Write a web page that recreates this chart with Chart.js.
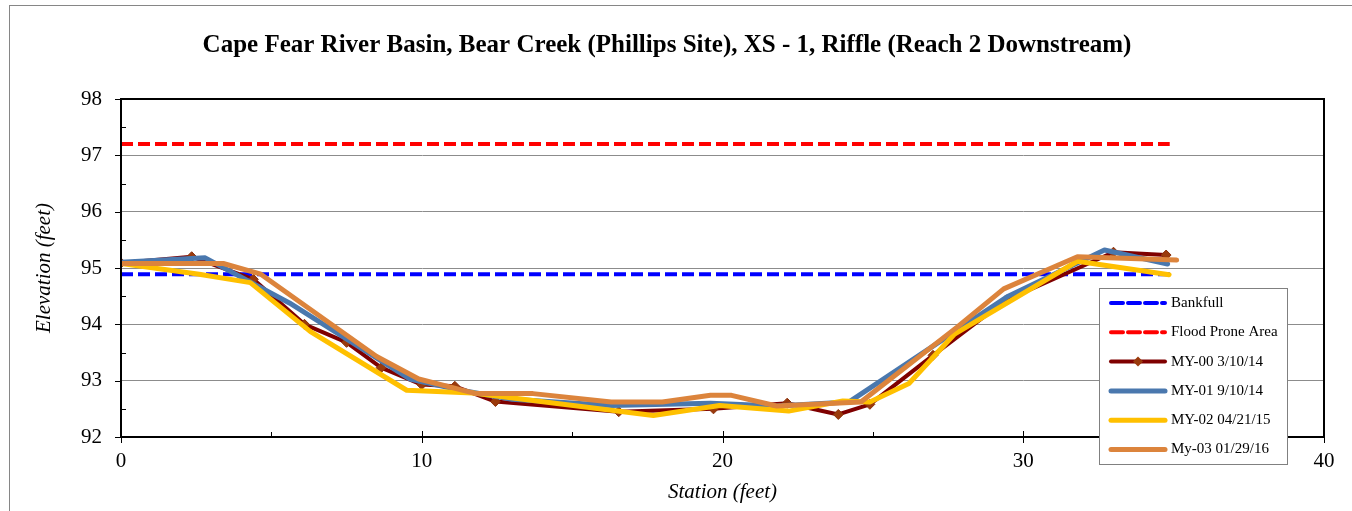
<!DOCTYPE html>
<html>
<head>
<meta charset="utf-8">
<script src="https://cdn.jsdelivr.net/npm/chart.js@4.4.1/dist/chart.umd.min.js"></script>
<style>
  body { margin: 0; background: #fff; }
  canvas { display: block; }
</style>
</head>
<body>
<canvas id="xsChart" width="1352" height="511"></canvas>
<script>
// cross-section survey data (station ft, elevation ft)
const bankfullStation = [0, 34.87];
const bankfullElev = [94.89, 94.89];
const floodStation = [0, 34.87];
const floodElev = [97.2, 97.2];

const my00Station = [0, 2.35, 4.4, 6.1, 7.5, 8.65, 10.0, 11.1, 12.45, 16.55, 19.7, 22.15, 23.85, 24.9, 27.0, 29.4, 33.0, 34.75];
const my00Elev = [95.09, 95.2, 94.8, 94.0, 93.68, 93.23, 92.93, 92.9, 92.63, 92.45, 92.5, 92.6, 92.4, 92.58, 93.45, 94.42, 95.28, 95.23];

const my01Station = [0, 2.8, 5.6, 9.6, 11.2, 13.0, 16.3, 19.6, 21.8, 24.2, 29.5, 32.7, 34.8];
const my01Elev = [95.1, 95.18, 94.38, 93.03, 92.84, 92.67, 92.56, 92.6, 92.55, 92.62, 94.5, 95.32, 95.07];

const my02Station = [0, 2.6, 4.3, 6.3, 9.5, 11.7, 17.7, 19.9, 22.2, 24.0, 24.9, 26.2, 27.7, 31.8, 34.85];
const my02Elev = [95.08, 94.89, 94.74, 93.87, 92.83, 92.78, 92.38, 92.56, 92.46, 92.64, 92.62, 92.95, 93.82, 95.12, 94.88];

const my03Station = [0, 3.4, 4.65, 8.5, 9.9, 11.8, 13.7, 16.3, 18.0, 19.6, 20.3, 21.8, 24.6, 27.8, 29.35, 31.8, 35.1];
const my03Elev = [95.08, 95.08, 94.89, 93.43, 93.03, 92.77, 92.77, 92.62, 92.62, 92.74, 92.74, 92.55, 92.62, 93.95, 94.63, 95.2, 95.14];

const xTicks = [0, 10, 20, 30, 40];
const yTicks = [92, 93, 94, 95, 96, 97, 98];

function pts(xs, ys) {
  return xs.map((x, i) => ({ x: x, y: ys[i] }));
}

const serif = "'Liberation Serif', 'Times New Roman', serif";

const seriesStyle = [
  { label: "Bankfull", color: "#0000FF", dash: [12, 5], width: 4 },
  { label: "Flood Prone Area", color: "#FF0000", dash: [12, 5], width: 4 },
  { label: "MY-00 3/10/14", color: "#7F0000", width: 4, marker: true },
  { label: "MY-01 9/10/14", color: "#4A78AE", width: 5 },
  { label: "MY-02 04/21/15", color: "#FFC000", width: 5 },
  { label: "My-03 01/29/16", color: "#DC843C", width: 5 },
];

// minor/major tick marks, plot frame, outer border
const frameTicks = {
  id: "frameTicks",
  afterDraw(chart) {
    const c = chart.ctx;
    const a = chart.chartArea;
    const xs = chart.scales.x;
    const ys = chart.scales.y;
    c.save();
    c.strokeStyle = "#000";
    c.lineWidth = 1;
    c.beginPath();
    for (let v = 92; v <= 98; v += 0.5) {
      const y = Math.round(ys.getPixelForValue(v)) + 0.5;
      if (v % 1 === 0) { c.moveTo(a.left - 6, y); c.lineTo(a.left, y); }
      else { c.moveTo(a.left, y); c.lineTo(a.left + 5, y); }
    }
    for (let v = 0; v <= 40; v += 5) {
      const x = Math.round(xs.getPixelForValue(v)) + 0.5;
      if (v % 10 === 0) { c.moveTo(x, a.bottom - 6); c.lineTo(x, a.bottom + 6); }
      else { c.moveTo(x, a.bottom - 5); c.lineTo(x, a.bottom); }
    }
    c.stroke();
    c.lineWidth = 2;
    c.strokeRect(a.left, a.top, a.right - a.left, a.bottom - a.top);
    c.strokeStyle = "#868686";
    c.lineWidth = 1;
    c.strokeRect(9.5, 5.5, 1400, 600);
    c.restore();
  },
};

// legend box overlapping the plot, as in the original
const boxLegend = {
  id: "boxLegend",
  afterDraw(chart) {
    const c = chart.ctx;
    const bx = 1099, by = 288, bw = 188, bh = 176;
    c.save();
    c.fillStyle = "#fff";
    c.fillRect(bx, by, bw, bh);
    c.strokeStyle = "#808080";
    c.lineWidth = 1;
    c.strokeRect(bx + 0.5, by + 0.5, bw, bh);
    c.font = "15px " + serif;
    c.textBaseline = "middle";
    seriesStyle.forEach((s, i) => {
      const y = 303 + i * 29.3;
      c.strokeStyle = s.color;
      c.lineWidth = s.width;
      c.lineCap = "round";
      c.setLineDash(s.dash ? s.dash : []);
      c.beginPath();
      c.moveTo(1111, y);
      c.lineTo(1165, y);
      c.stroke();
      c.setLineDash([]);
      if (s.marker) {
        c.fillStyle = "#9A3A0C";
        c.beginPath();
        c.moveTo(1138, y - 5);
        c.lineTo(1143, y);
        c.lineTo(1138, y + 5);
        c.lineTo(1133, y);
        c.closePath();
        c.fill();
      }
      c.fillStyle = "#000";
      c.fillText(s.label, 1171, y);
    });
    c.restore();
  },
};

const seriesData = [
  pts(bankfullStation, bankfullElev),
  pts(floodStation, floodElev),
  pts(my00Station, my00Elev),
  pts(my01Station, my01Elev),
  pts(my02Station, my02Elev),
  pts(my03Station, my03Elev),
];

const ctx = document.getElementById("xsChart");

new Chart(ctx, {
  type: "scatter",
  data: {
    datasets: seriesStyle.map((s, i) => ({
      label: s.label,
      data: seriesData[i],
      showLine: true,
      borderColor: s.color,
      borderWidth: s.width,
      borderDash: s.dash ? s.dash : [],
      borderJoinStyle: "round",
      borderCapStyle: s.dash ? "butt" : "round",
      pointRadius: s.marker ? 5 : 0,
      pointStyle: "rectRot",
      pointBackgroundColor: "#9A3A0C",
      pointBorderColor: "#8A300A",
      pointBorderWidth: 1,
      order: 6 - i,
    })),
  },
  options: {
    responsive: false,
    animation: false,
    layout: { padding: { left: 10, right: 28, top: 0, bottom: 0 } },
    plugins: {
      legend: { display: false },
      tooltip: { enabled: false },
      title: {
        display: true,
        text: "Cape Fear River Basin, Bear Creek (Phillips Site), XS - 1, Riffle (Reach 2 Downstream)",
        color: "#000",
        font: { family: serif, size: 25, weight: "bold" },
        padding: { top: 31, bottom: 38 },
      },
    },
    scales: {
      x: {
        type: "linear",
        min: 0,
        max: 40,
        afterBuildTicks: (scale) => { scale.ticks = xTicks.map((v) => ({ value: v })); },
        afterFit: (scale) => { scale.height = 74; },
        grid: { display: false, drawTicks: false },
        border: { color: "#000", width: 2 },
        ticks: { color: "#000", padding: 12, font: { family: serif, size: 21 } },
        title: {
          display: true,
          text: "Station (feet)",
          color: "#000",
          padding: { top: 0, bottom: 6 },
          font: { family: serif, size: 21, style: "italic" },
        },
      },
      y: {
        min: 92,
        max: 98,
        afterBuildTicks: (scale) => { scale.ticks = yTicks.map((v) => ({ value: v })); },
        afterFit: (scale) => { scale.width = 111; },
        grid: { color: "#8c8c8c", lineWidth: 1, drawTicks: false },
        border: { color: "#000", width: 2 },
        ticks: { color: "#000", padding: 19, font: { family: serif, size: 21 } },
        title: {
          display: true,
          text: "Elevation (feet)",
          color: "#000",
          padding: { top: 22, bottom: 0 },
          font: { family: serif, size: 21, style: "italic" },
        },
      },
    },
  },
  plugins: [frameTicks, boxLegend],
});
</script>
</body>
</html>
